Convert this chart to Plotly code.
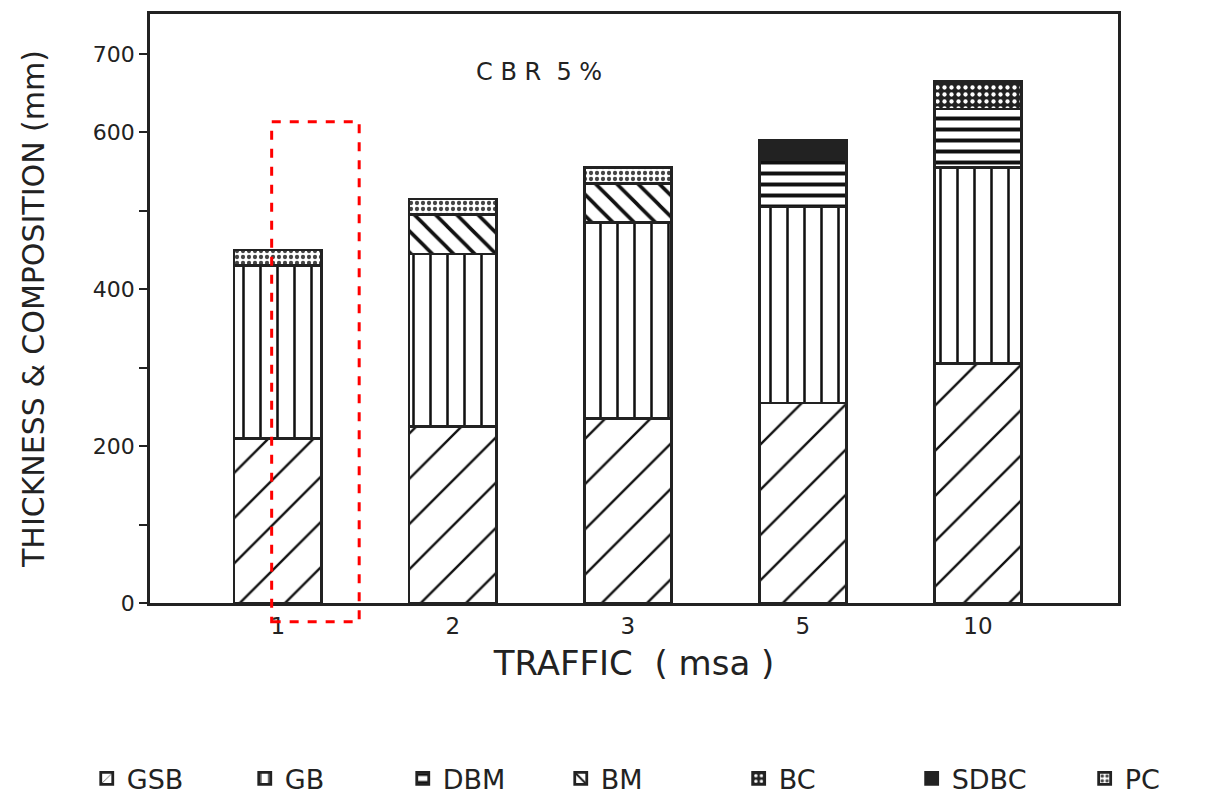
import plotly.graph_objects as go

# Traffic levels (million standard axles)
traffic = ["1", "2", "3", "5", "10"]

# Layer thicknesses (mm), bottom to top of each pavement section
gsb = [210, 225, 235, 255, 305]
gb = [220, 220, 250, 250, 250]
dbm = [0, 0, 0, 60, 75]
bm = [0, 50, 50, 0, 0]
bc = [0, 0, 0, 0, 35]
sdbc = [0, 0, 0, 25, 0]
pc = [20, 20, 20, 0, 0]

y_ticks = [0, 100, 200, 300, 400, 500, 600, 700]
y_tick_text = ["0", "", "200", "", "400", "", "600", "700"]

INK = "#222222"
LINE = "#111111"
FONT = "DejaVu Sans"

# name, values, hatch pattern, base fill, legend group box
layers = [
    ("GSB", gsb, dict(shape="/", size=32, solidity=0.075), "white", "legend"),
    ("GB", gb, dict(shape="|", size=17, solidity=0.15), "white", "legend"),
    ("DBM", dbm, dict(shape="-", size=11, solidity=0.36), "white", "legend"),
    ("BM", bm, dict(shape="\\", size=15, solidity=0.24), "white", "legend"),
    ("BC", bc, dict(shape=".", size=7, solidity=0.3, fgcolor="white", bgcolor=INK), INK, "legend2"),
    ("SDBC", sdbc, dict(shape=""), INK, "legend2"),
    ("PC", pc, dict(shape=".", size=6, solidity=0.4, fgcolor="#444444"), "white", "legend2"),
]

fig = go.Figure()
for name, vals, pattern, fill, leg in layers:
    pat = dict(fgcolor=LINE, bgcolor="white", fgopacity=1, fillmode="replace")
    pat.update(pattern)
    fig.add_trace(go.Bar(
        name=name,
        x=traffic,
        y=[v if v else None for v in vals],
        width=0.5,
        legend=leg,
        marker=dict(color=fill, pattern=pat, line=dict(color=INK, width=2.8)),
    ))

legend_style = dict(
    orientation="h",
    xref="container", yref="container",
    xanchor="left", y=0.03, yanchor="middle",
    traceorder="normal",
    font=dict(size=27, family=FONT, color=INK),
    entrywidthmode="pixels",
    itemwidth=30,
    bgcolor="rgba(0,0,0,0)",
)

fig.update_layout(
    barmode="stack",
    width=1205,
    height=803,
    paper_bgcolor="white",
    plot_bgcolor="white",
    margin=dict(l=150, r=87, t=14, b=200, autoexpand=False),
    font=dict(family=FONT, color=INK),
    showlegend=True,
    legend=dict(legend_style, x=0.072, entrywidth=113),
    legend2=dict(legend_style, x=0.613, entrywidth=128),
    annotations=[dict(
        text="C B R  5 %", x=0.402, y=0.9015, xref="paper", yref="paper",
        xanchor="center", yanchor="middle",
        showarrow=False, font=dict(size=24, family=FONT, color=INK),
    )],
    shapes=[dict(
        type="rect", xref="x", yref="paper",
        x0=-0.035, x1=0.465, y0=-0.032, y1=0.817,
        line=dict(color="red", width=3, dash="dash"),
    )],
)

fig.update_xaxes(
    type="category",
    range=[-0.73, 4.8],
    showline=True, linecolor=INK, linewidth=2.8, mirror=True,
    ticks="", showgrid=False,
    tickfont=dict(size=23, family=FONT, color=INK),
    title=dict(text="TRAFFIC  ( msa )", font=dict(size=34, family=FONT, color=INK), standoff=14),
)

fig.update_yaxes(
    range=[0, 751],
    tickvals=y_ticks, ticktext=y_tick_text,
    showline=True, linecolor=INK, linewidth=2.8, mirror=True,
    ticks="outside", ticklen=8, tickwidth=2, tickcolor=INK,
    showgrid=False, zeroline=False,
    tickfont=dict(size=22, family=FONT, color=INK),
    title=dict(text="THICKNESS & COMPOSITION (mm)", font=dict(size=30, family=FONT, color=INK), standoff=40),
)

fig.write_html("out.html")
